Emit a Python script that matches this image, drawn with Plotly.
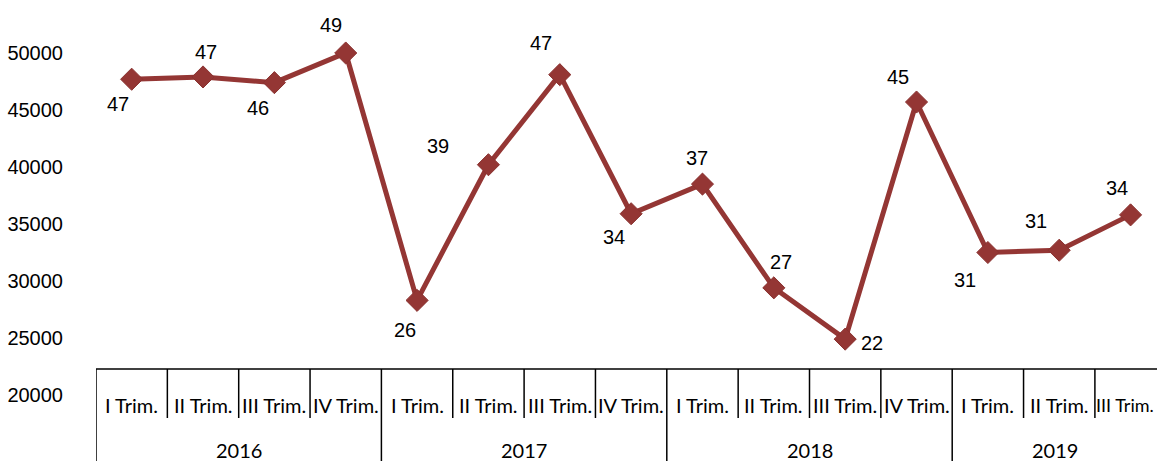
import plotly.graph_objects as go

# Quarterly series, 2016 Q1 .. 2019 Q3
quarters = ["I Trim.", "II Trim.", "III Trim.", "IV Trim.",
            "I Trim.", "II Trim.", "III Trim.", "IV Trim.",
            "I Trim.", "II Trim.", "III Trim.", "IV Trim.",
            "I Trim.", "II Trim.", "III Trim."]
years = ["2016", "2017", "2018", "2019"]
year_sizes = [4, 4, 4, 3]
values = [47700, 47900, 47400, 50000,
          28300, 40200, 48100, 35900,
          38500, 29400, 24900, 45700,
          32500, 32700, 35800]
value_labels = ["47", "47", "46", "49",
                "26", "39", "47", "34",
                "37", "27", "22", "45",
                "31", "31", "34"]
y_ticks = [20000, 25000, 30000, 35000, 40000, 45000, 50000]

# pixel offsets of each value label relative to its marker
label_offsets = [(-14, -25), (3, 25), (-16, -25), (-15, 28),
                 (-12, -30), (-50, 19), (-19, 32), (-17, -23),
                 (-5, 26), (7, 26), (27, -4), (-19, 25),
                 (-23, -27), (-23, 29), (-14, 27)]

W, H = 1157, 461
LEFT = 96
PX_PER_UNIT = 57 / 5000          # vertical pixels per data unit
Y_AT_20000 = 395                 # pixel row of the 20000 gridline
y_top = 20000 + Y_AT_20000 / PX_PER_UNIT
y_bot = 20000 - (H - Y_AT_20000) / PX_PER_UNIT

CAT_W = 71.35
x_right = -0.5 + (W - LEFT) / CAT_W

LINE_COLOR = "#943634"
NARROW = "Liberation Sans Narrow, Arial Narrow, Liberation Sans, sans-serif"
CAT_FONT = "Lato, Carlito, Calibri, sans-serif"

xs = list(range(len(values)))

fig = go.Figure()
fig.add_trace(go.Scatter(
    x=xs, y=values, mode="lines+markers",
    line=dict(color=LINE_COLOR, width=5),
    marker=dict(symbol="diamond", size=17, color=LINE_COLOR,
                line=dict(color="#8a3230", width=1)),
    hoverinfo="skip", showlegend=False, cliponaxis=False,
))

annotations = []
for x, v, lab, (dx, dy) in zip(xs, values, value_labels, label_offsets):
    annotations.append(dict(x=x, y=v, text=lab, showarrow=False,
                            xshift=dx, yshift=dy,
                            font=dict(family=NARROW, size=20, color="black")))

def py(pix):
    """pixel row -> paper coordinate"""
    return 1 - pix / H

AXIS_Y = 369
SHORT_Y = 418
shapes = [dict(type="line", xref="paper", yref="paper",
               x0=0, x1=1, y0=py(AXIS_Y), y1=py(AXIS_Y),
               line=dict(color="black", width=1.5))]

# category boundaries: short ticks between quarters, full lines between years
year_bounds = [0]
for s in year_sizes:
    year_bounds.append(year_bounds[-1] + s)
for b in range(len(quarters)):
    full = b in year_bounds
    shapes.append(dict(type="line", xref="x", yref="paper",
                       x0=b - 0.5, x1=b - 0.5,
                       y0=py(AXIS_Y), y1=0 if full else py(SHORT_Y),
                       line=dict(color="black", width=1.5)))

last = len(quarters) - 1
for x, q in zip(xs, quarters):
    if x == last:
        # the final category is partly outside the axis; keep its label inside
        annotations.append(dict(x=1, y=py(405), xref="paper", yref="paper",
                                text=q, showarrow=False, xanchor="right",
                                xshift=-1, yanchor="middle",
                                font=dict(family=CAT_FONT, size=18,
                                          color="black")))
        continue
    annotations.append(dict(x=x, y=py(405), xref="x", yref="paper", text=q,
                            showarrow=False, yanchor="middle",
                            font=dict(family=CAT_FONT, size=20, color="black")))

for i, yr in enumerate(years):
    x0 = year_bounds[i] - 0.5
    x1 = min(year_bounds[i + 1] - 0.5, x_right)
    annotations.append(dict(x=(x0 + x1) / 2, y=py(450), xref="x", yref="paper",
                            text=yr, showarrow=False, yanchor="middle",
                            font=dict(family=CAT_FONT, size=20, color="black")))

fig.update_layout(
    width=W, height=H,
    margin=dict(l=LEFT, r=0, t=0, b=0),
    paper_bgcolor="white", plot_bgcolor="white",
    xaxis=dict(range=[-0.5, x_right], visible=False, fixedrange=True),
    yaxis=dict(range=[y_bot, y_top], tickvals=y_ticks,
               ticktext=[str(t) for t in y_ticks],
               showgrid=False, zeroline=False, showline=False,
               ticks="", ticklabelstandoff=32,
               tickfont=dict(family=NARROW, size=20, color="black")),
    shapes=shapes, annotations=annotations,
)

fig.write_html("out.html")
